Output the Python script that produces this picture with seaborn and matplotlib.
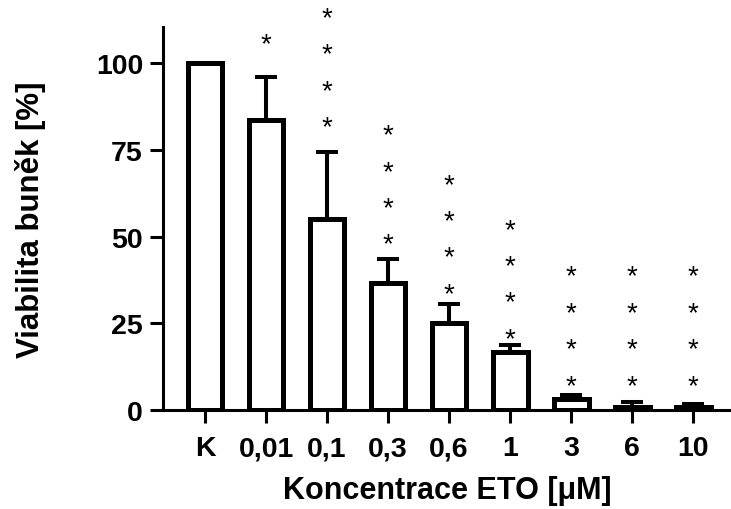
import numpy as np
import pandas as pd
import matplotlib
matplotlib.use("Agg")
import matplotlib.pyplot as plt
import seaborn as sns

# Cell viability after ETO treatment (mean ± SD, upper error only)
concentrations = ["K", "0,01", "0,1", "0,3", "0,6", "1", "3", "6", "10"]
viability_mean = [100.0, 83.6, 55.0, 36.6, 24.9, 16.6, 3.1, 0.9, 0.9]
viability_sd = [0.0, 12.4, 19.3, 6.9, 5.6, 2.1, 1.2, 1.4, 0.7]
significance = ["", "*", "****", "****", "****", "****", "****", "****", "****"]
y_ticks = [0, 25, 50, 75, 100]

df = pd.DataFrame({"conc": concentrations, "mean": viability_mean, "sd": viability_sd})

sns.set_theme(style="ticks")
plt.rcParams["font.family"] = ["Liberation Sans", "DejaVu Sans"]
for key in ("text.color", "axes.labelcolor", "xtick.color", "ytick.color", "axes.edgecolor"):
    plt.rcParams[key] = "black"

fig = plt.figure(figsize=(7.31, 5.10), dpi=100)
W, H = 731, 510
ax = fig.add_axes([163 / W, 99.3 / H, 568 / W, 382.7 / H])

sns.barplot(data=df, x="conc", y="mean", color="white", edgecolor="black",
            linewidth=3.6, width=0.57, errorbar=None, saturation=1, ax=ax, zorder=2)
for p in ax.patches:
    p.set_facecolor("white")

x = np.arange(len(concentrations))
ax.errorbar(x, df["mean"], yerr=[np.zeros(len(x)), df["sd"]], fmt="none",
            ecolor="black", elinewidth=2.9, capsize=8, capthick=2.9, zorder=1)

# significance asterisks stacked above each bar's error cap
star_fs = 20
step = 10.5
for xi, m, s, sig in zip(x, viability_mean, viability_sd, significance):
    top = m + s
    base = max(1.1 * top + 2.65, 9.7)
    for k in range(len(sig)):
        ax.annotate("*", xy=(xi, base + k * step), xytext=(0, -0.6 * star_fs),
                    textcoords="offset points", ha="center", va="baseline",
                    fontsize=star_fs, color="black", annotation_clip=False)

ax.set_xlim(-0.689, 8.62)
ax.set_ylim(0, 110.5)
ax.set_yticks(y_ticks)
ax.set_xlabel("Koncentrace ETO [μM]", fontsize=22, fontweight="bold", labelpad=10)
ax.set_ylabel("Viabilita buněk [%]", fontsize=22.5, fontweight="bold", labelpad=36)

for lab in ax.get_xticklabels() + ax.get_yticklabels():
    lab.set_fontweight("bold")
    lab.set_fontsize(20.5)

sns.despine(ax=ax)
for side in ("left", "bottom"):
    ax.spines[side].set_linewidth(2.2)
    ax.spines[side].set_color("black")
ax.tick_params(axis="both", length=9.4, width=2.2, color="black")
ax.tick_params(axis="x", pad=9)
ax.tick_params(axis="y", pad=5)
ax.set_facecolor("white")
fig.patch.set_facecolor("white")

fig.savefig("out.png", dpi=100, facecolor="white")
